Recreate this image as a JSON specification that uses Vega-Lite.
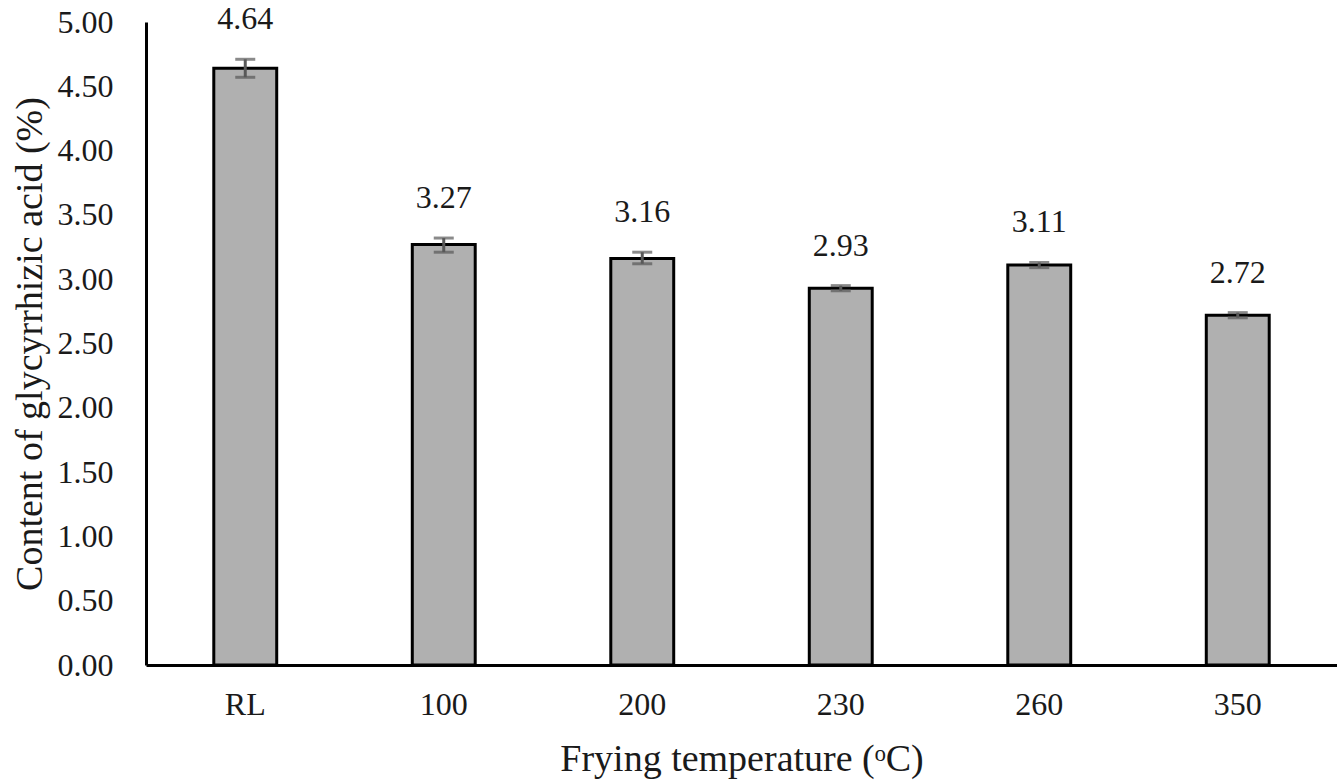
{
  "$schema": "https://vega.github.io/schema/vega-lite/v6.json",
  "width": 1191,
  "height": 643,
  "autosize": {"type": "none"},
  "padding": {"left": 146, "top": 22, "right": 0, "bottom": 118},
  "background": "white",
  "config": {"view": {"stroke": null}, "font": "Liberation Serif", "text": {"font": "Liberation Serif"}},
  "data": {
    "values": [
      {"temp": "RL", "value": 4.64, "lo": 4.57, "hi": 4.71},
      {"temp": "100", "value": 3.27, "lo": 3.21, "hi": 3.32},
      {"temp": "200", "value": 3.16, "lo": 3.12, "hi": 3.21},
      {"temp": "230", "value": 2.93, "lo": 2.91, "hi": 2.95},
      {"temp": "260", "value": 3.11, "lo": 3.09, "hi": 3.13},
      {"temp": "350", "value": 2.72, "lo": 2.7, "hi": 2.74}
    ]
  },
  "encoding": {
    "x": {
      "field": "temp",
      "type": "nominal",
      "sort": null,
      "scale": {"paddingInner": 0.683, "paddingOuter": 0.3415},
      "axis": {
        "title": "Frying temperature (ᵒC)",
        "labelAngle": 0,
        "tickSize": 0,
        "labelPadding": 24,
        "labelFont": "Liberation Serif",
        "labelFontSize": 32,
        "labelColor": "#1a1a1a",
        "domainColor": "#000000",
        "domainWidth": 3,
        "titleFont": "Liberation Serif",
        "titleFontSize": 38,
        "titleFontWeight": "normal",
        "titleColor": "#1a1a1a",
        "titlePadding": 20
      }
    }
  },
  "layer": [
    {
      "mark": {"type": "bar", "fill": "#b0b0b0", "stroke": "#000000", "strokeWidth": 3},
      "encoding": {
        "y": {
          "field": "value",
          "type": "quantitative",
          "scale": {"domain": [0, 5], "nice": false, "zero": true},
          "axis": {
            "title": "Content of glycyrrhizic acid (%)",
            "values": [0, 0.5, 1, 1.5, 2, 2.5, 3, 3.5, 4, 4.5, 5],
            "format": ".2f",
            "grid": false,
            "tickSize": 0,
            "labelPadding": 33,
            "labelFont": "Liberation Serif",
            "labelFontSize": 32,
            "labelColor": "#1a1a1a",
            "domainColor": "#000000",
            "domainWidth": 3,
            "titleFont": "Liberation Serif",
            "titleFontSize": 38,
            "titleFontWeight": "normal",
            "titleColor": "#1a1a1a",
            "titlePadding": 8
          }
        }
      }
    },
    {
      "mark": {"type": "rule", "color": "#595959", "strokeWidth": 3},
      "encoding": {
        "y": {"field": "lo", "type": "quantitative"},
        "y2": {"field": "hi"}
      }
    },
    {
      "mark": {"type": "tick", "color": "#595959", "size": 20, "thickness": 3, "orient": "horizontal"},
      "encoding": {"y": {"field": "lo", "type": "quantitative"}}
    },
    {
      "mark": {"type": "tick", "color": "#595959", "size": 20, "thickness": 3, "orient": "horizontal"},
      "encoding": {"y": {"field": "hi", "type": "quantitative"}}
    },
    {
      "mark": {"type": "text", "font": "Liberation Serif", "fontSize": 32, "color": "#1a1a1a", "baseline": "middle", "dy": -40},
      "encoding": {
        "y": {"field": "hi", "type": "quantitative"},
        "text": {"field": "value", "type": "quantitative", "format": ".2f"}
      }
    }
  ]
}
